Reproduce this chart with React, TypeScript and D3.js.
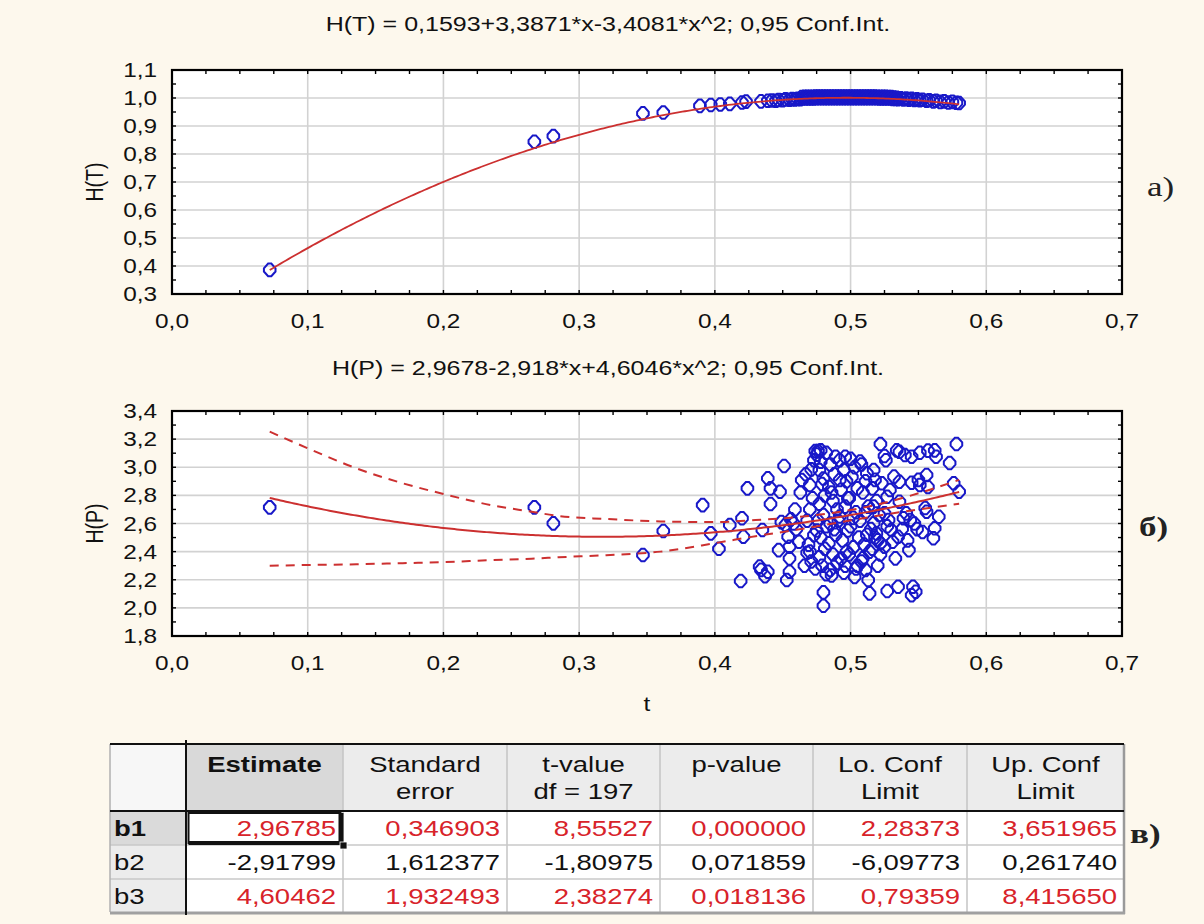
import React from "react";
import * as d3 from "d3";

// ---- data ----
const xTicks = [0, 0.1, 0.2, 0.3, 0.4, 0.5, 0.6, 0.7];
const yTicksT = [0.3, 0.4, 0.5, 0.6, 0.7, 0.8, 0.9, 1.0, 1.1];
const yTicksP = [1.8, 2.0, 2.2, 2.4, 2.6, 2.8, 3.0, 3.2, 3.4];

const titleT = "H(T) = 0,1593+3,3871*x-3,4081*x^2; 0,95 Conf.Int.";
const titleP = "H(P) = 2,9678-2,918*x+4,6046*x^2; 0,95 Conf.Int.";

// fitted quadratic coefficients (from the titles)
const coefT = [0.1593, 3.3871, -3.4081];
const coefP = [2.9678, -2.918, 4.6046];
const fitRange = [0.072, 0.58];

// 0.95 confidence band of H(P)
const bandX = [0.072, 0.1, 0.136, 0.17, 0.2, 0.235, 0.265, 0.285, 0.32, 0.36, 0.4, 0.43, 0.46, 0.49, 0.52, 0.55, 0.58];
const bandUpper = [3.253, 3.135, 2.992, 2.886, 2.81, 2.731, 2.684, 2.653, 2.632, 2.615, 2.61, 2.625, 2.645, 2.68, 2.735, 2.815, 2.91];
const bandLower = [2.3, 2.305, 2.31, 2.318, 2.325, 2.34, 2.35, 2.36, 2.375, 2.4, 2.46, 2.51, 2.555, 2.605, 2.655, 2.7, 2.74];

// H(T) observations (the band near 1,0 is packed so tight it reads as a solid bar)
const pointsT: [number, number][] = [
  [0.072, 0.386], [0.267, 0.844], [0.281, 0.864], [0.347, 0.945], [0.362, 0.948],
  [0.389, 0.972], [0.397, 0.975], [0.404, 0.977], [0.411, 0.979], [0.42, 0.984],
  [0.423, 0.987], [0.434, 0.988], [0.439, 0.99], [0.442, 0.991],
  [0.445, 0.99], [0.447, 0.993], [0.45, 0.992], [0.452, 0.995], [0.455, 0.994],
  [0.457, 0.996], [0.459, 0.995], [0.461, 0.997], [0.463, 0.996],
  [0.464, 1.003], [0.465, 0.998], [0.466, 1.004], [0.467, 0.998], [0.468, 1.004],
  [0.469, 0.998], [0.47, 1.004], [0.471, 0.998], [0.472, 1.004], [0.473, 0.998],
  [0.474, 1.005], [0.475, 0.999], [0.476, 1.005], [0.477, 0.999], [0.478, 1.005],
  [0.479, 0.999], [0.48, 1.005], [0.481, 0.999], [0.482, 1.005], [0.483, 0.999],
  [0.484, 1.005], [0.485, 0.999], [0.486, 1.005], [0.487, 0.999], [0.488, 1.005],
  [0.489, 0.999], [0.49, 1.005], [0.491, 0.999], [0.492, 1.005], [0.493, 0.999],
  [0.494, 1.005], [0.495, 0.999], [0.496, 1.005], [0.497, 0.999], [0.498, 1.005],
  [0.499, 0.999], [0.5, 1.005], [0.501, 0.999], [0.502, 1.005], [0.503, 0.999],
  [0.504, 1.005], [0.505, 0.999], [0.506, 1.005], [0.507, 0.999], [0.508, 1.005],
  [0.509, 0.999], [0.51, 1.005], [0.511, 0.999], [0.512, 1.005], [0.513, 0.999],
  [0.514, 1.005], [0.515, 0.999], [0.516, 1.005], [0.517, 0.999], [0.518, 1.005],
  [0.519, 0.999], [0.52, 1.004], [0.521, 0.998], [0.522, 1.004], [0.523, 0.998],
  [0.524, 1.004], [0.525, 0.998], [0.526, 1.004], [0.527, 0.998], [0.528, 1.003],
  [0.529, 0.998], [0.53, 1.003], [0.531, 0.997], [0.532, 1.002], [0.533, 0.997],
  [0.534, 1.001], [0.535, 0.996], [0.537, 0.999], [0.539, 0.995], [0.541, 0.998],
  [0.543, 0.994], [0.545, 0.997], [0.547, 0.993], [0.549, 0.995], [0.551, 0.992],
  [0.553, 0.994], [0.556, 0.99], [0.558, 0.992], [0.561, 0.988], [0.563, 0.99],
  [0.566, 0.986], [0.569, 0.988], [0.572, 0.984], [0.575, 0.986], [0.578, 0.983],
  [0.58, 0.982],
];

// H(P) observations
const pointsP: [number, number][] = [
  [0.072, 2.715], [0.267, 2.715], [0.281, 2.601], [0.347, 2.376], [0.362, 2.547],
  [0.391, 2.731], [0.397, 2.53], [0.403, 2.42], [0.411, 2.589], [0.419, 2.191],
  [0.42, 2.637], [0.421, 2.506], [0.424, 2.85], [0.433, 2.293], [0.434, 2.27],
  [0.437, 2.225], [0.439, 2.257], [0.435, 2.554], [0.439, 2.921], [0.441, 2.85],
  [0.441, 2.739], [0.448, 2.826], [0.451, 3.009], [0.447, 2.411], [0.453, 2.198],
  [0.455, 2.257], [0.455, 2.352], [0.455, 2.435], [0.454, 2.506], [0.452, 2.59],
  [0.456, 2.63], [0.458, 2.6], [0.449, 2.61], [0.46, 2.56], [0.464, 2.909],
  [0.468, 2.392], [0.47, 2.874], [0.471, 2.985], [0.473, 2.518],
  [0.474, 3.115], [0.476, 3.115], [0.475, 3.09], [0.478, 3.12], [0.482, 3.103], [0.478, 3.04],
  [0.48, 2.11], [0.48, 2.015], [0.489, 3.075], [0.496, 3.075], [0.492, 2.909],
  [0.522, 3.165], [0.534, 3.12], [0.536, 3.11], [0.525, 3.08], [0.526, 3.05],
  [0.54, 3.087], [0.545, 3.075], [0.551, 3.103], [0.557, 3.118], [0.562, 3.12],
  [0.563, 3.075], [0.578, 3.165], [0.573, 3.03], [0.556, 2.945], [0.55, 2.91],
  [0.551, 2.874], [0.545, 2.89], [0.536, 2.897], [0.532, 2.933], [0.576, 2.886],
  [0.58, 2.826], [0.556, 2.684], [0.565, 2.648], [0.562, 2.566], [0.561, 2.495],
  [0.543, 2.411], [0.533, 2.352], [0.535, 2.506], [0.539, 2.637], [0.513, 2.198],
  [0.514, 2.103], [0.527, 2.12], [0.535, 2.15], [0.546, 2.15], [0.548, 2.115],
  [0.545, 2.09], [0.509, 2.352], [0.505, 2.3], [0.522, 2.46], [0.525, 2.435],
  [0.519, 2.53], [0.53, 2.554], [0.528, 2.625], [0.541, 2.672], [0.525, 2.672],
  [0.517, 2.601], [0.517, 2.72], [0.536, 2.755], [0.527, 2.79], [0.529, 2.838],
  [0.523, 2.886], [0.517, 2.98], [0.518, 2.91], [0.512, 2.957], [0.507, 3.04],
  [0.468, 2.62], [0.47, 2.7], [0.472, 2.78], [0.469, 2.45], [0.471, 2.33],
  [0.474, 2.28], [0.475, 2.55], [0.467, 2.95], [0.473, 3.05],
  [0.477, 2.98], [0.479, 2.88], [0.481, 2.8], [0.477, 2.74], [0.48, 2.66],
  [0.482, 2.58], [0.478, 2.5], [0.481, 2.42], [0.477, 2.36], [0.479, 2.3],
  [0.482, 2.24], [0.476, 2.62], [0.48, 2.92],
  [0.485, 3.02], [0.488, 2.95], [0.484, 2.86], [0.487, 2.76], [0.49, 2.7],
  [0.485, 2.6], [0.489, 2.52], [0.484, 2.46], [0.487, 2.38], [0.49, 2.32],
  [0.485, 2.27], [0.488, 2.56], [0.486, 2.82],
  [0.492, 3.05], [0.495, 2.98], [0.497, 2.9], [0.493, 2.84], [0.496, 2.72],
  [0.492, 2.65], [0.498, 2.55], [0.494, 2.48], [0.497, 2.4], [0.493, 2.35],
  [0.496, 2.3], [0.491, 2.62], [0.498, 2.78],
  [0.5, 3.06], [0.503, 3.0], [0.501, 2.93], [0.505, 2.85], [0.499, 2.78],
  [0.504, 2.68], [0.5, 2.58], [0.506, 2.5], [0.502, 2.43], [0.499, 2.38],
  [0.504, 2.28], [0.502, 2.64],
  [0.508, 3.02], [0.511, 2.9], [0.509, 2.82], [0.513, 2.72], [0.507, 2.62],
  [0.512, 2.52], [0.51, 2.45], [0.514, 2.4], [0.508, 2.33], [0.511, 2.68],
  [0.516, 2.85], [0.519, 2.76], [0.521, 2.66], [0.515, 2.56], [0.52, 2.48],
  [0.516, 2.42], [0.522, 2.38], [0.518, 2.5],
  [0.459, 2.7], [0.462, 2.47], [0.466, 2.3], [0.463, 2.82], [0.47, 2.4],
  [0.486, 2.23], [0.495, 2.25], [0.503, 2.22], [0.511, 2.27], [0.52, 2.3],
  [0.527, 2.58], [0.531, 2.47], [0.538, 2.56], [0.547, 2.6], [0.553, 2.54],
  [0.557, 2.86], [0.555, 2.71], [0.544, 2.625], [0.549, 2.56], [0.542, 2.48],
];

// regression table
const tableHeaders = [["Estimate"], ["Standard", "error"], ["t-value", "df = 197"], ["p-value"], ["Lo. Conf", "Limit"], ["Up. Conf", "Limit"]];
const rowNames = ["b1", "b2", "b3"];
const tableValues = [
  ["2,96785", "0,346903", "8,55527", "0,000000", "2,28373", "3,651965"],
  ["-2,91799", "1,612377", "-1,80975", "0,071859", "-6,09773", "0,261740"],
  ["4,60462", "1,932493", "2,38274", "0,018136", "0,79359", "8,415650"],
];
const significant = [true, false, true];

// ---- styling ----
const SANS = "'Liberation Sans', Arial, sans-serif";
const SERIF = "'Liberation Serif', 'Times New Roman', serif";
const SX = 1.25; // the screenshot is stretched horizontally
const BG = "#fdf8ed";
const BLUE = "#1818c8";
const RED = "#cc3030";
const GRID = "#d2d2d2";
const X0 = 172;
const X1 = 1122;

const comma = (v: number) => v.toFixed(1).replace(".", ",");
const marker = "M-1.6,-6.3L1.6,-6.3L5.8,-1.6L5.8,1.6L1.6,6.3L-1.6,6.3L-5.8,1.6L-5.8,-1.6Z";

function Txt({ x, y, anchor = "start", size = 19, weight = "normal", fill = "#111", family = SANS, rotate = 0, dy = 0, children }: any) {
  const tr = `translate(${x},${y}) scale(${SX},1)` + (rotate ? ` rotate(${rotate})` : "");
  return (
    <text transform={tr} dy={dy} textAnchor={anchor} fontSize={size} fontWeight={weight} fill={fill} fontFamily={family}>
      {children}
    </text>
  );
}

function Panel({ y0, y1, domain, ticks, minorStep, title, titleY, yLabel, points, coef, band, showT }: any) {
  const x = d3.scaleLinear().domain([0, 0.7]).range([X0, X1]);
  const y = d3.scaleLinear().domain(domain).range([y1, y0]);
  const xMinor = d3.range(0, 0.7001, 0.025);
  const yMinor = d3.range(domain[0], domain[1] + 1e-6, minorStep);
  const poly = (t: number) => coef[0] + coef[1] * t + coef[2] * t * t;
  const fitT = d3.range(fitRange[0], fitRange[1] + 1e-9, 0.002);
  const fitPath = d3.line<number>().x((t) => x(t)).y((t) => y(poly(t)))(fitT) || "";
  const bandLine = (vals: number[]) =>
    d3.line<number>().x((_, i) => x(bandX[i])).y((d) => y(d)).curve(d3.curveMonotoneX)(vals) || "";

  return (
    <g>
      <Txt x={608} y={titleY} anchor="middle" size={20}>{title}</Txt>
      <rect x={X0} y={y0} width={X1 - X0} height={y1 - y0} fill="#fff" />
      {xTicks.slice(1, -1).map((t) => (
        <line key={"gx" + t} x1={x(t)} x2={x(t)} y1={y0} y2={y1} stroke={GRID} strokeWidth={1.6} />
      ))}
      {ticks.slice(1, -1).map((v: number) => (
        <line key={"gy" + v} x1={X0} x2={X1} y1={y(v)} y2={y(v)} stroke={GRID} strokeWidth={1.6} />
      ))}
      {xMinor.map((t) => (
        <g key={"mx" + t}>
          <line x1={x(t)} x2={x(t)} y1={y0} y2={y0 + 4} stroke="#000" strokeWidth={1.4} />
          <line x1={x(t)} x2={x(t)} y1={y1} y2={y1 - 4} stroke="#000" strokeWidth={1.4} />
        </g>
      ))}
      {yMinor.map((v: number) => (
        <g key={"my" + v}>
          <line x1={X0} x2={X0 + 4} y1={y(v)} y2={y(v)} stroke="#000" strokeWidth={1.4} />
          <line x1={X1} x2={X1 - 4} y1={y(v)} y2={y(v)} stroke="#000" strokeWidth={1.4} />
        </g>
      ))}
      {points.map((p: [number, number], i: number) => (
        <path key={"p" + i} d={marker} transform={`translate(${x(p[0])},${y(p[1])})`} fill="none" stroke={BLUE} strokeWidth={2} />
      ))}
      <path d={fitPath} fill="none" stroke={RED} strokeWidth={showT ? 1.8 : 2} />
      {band && (
        <g>
          <path d={bandLine(band[0])} fill="none" stroke={RED} strokeWidth={2} strokeDasharray="9,7" />
          <path d={bandLine(band[1])} fill="none" stroke={RED} strokeWidth={2} strokeDasharray="9,7" />
        </g>
      )}
      <rect x={X0} y={y0} width={X1 - X0} height={y1 - y0} fill="none" stroke="#000" strokeWidth={2.2} />
      {ticks.map((v: number) => (
        <Txt key={"ly" + v} x={157} y={y(v) + 7} anchor="end" size={19.5}>{comma(v)}</Txt>
      ))}
      {xTicks.map((t) => (
        <Txt key={"lx" + t} x={x(t)} y={y1 + 34} anchor="middle" size={19.5}>{comma(t)}</Txt>
      ))}
      <Txt x={94} y={(y0 + y1) / 2} anchor="middle" rotate={-90} dy="0.36em" size={19.5}>{yLabel}</Txt>
    </g>
  );
}

function Table() {
  const cols = [110, 186, 343, 507, 660, 813, 967, 1124];
  const top = 744;
  const headBottom = 811;
  const rows = [811, 845, 879, 912];
  return (
    <g>
      <rect x={cols[0]} y={top} width={cols[1] - cols[0]} height={headBottom - top} fill="#f7f7f7" />
      {tableHeaders.map((h, j) => (
        <rect key={"hb" + j} x={cols[j + 1]} y={top} width={cols[j + 2] - cols[j + 1]} height={headBottom - top} fill={j === 0 ? "#d9d9d9" : "#ececec"} />
      ))}
      {rowNames.map((r, i) => (
        <g key={"rb" + i}>
          <rect x={cols[0]} y={rows[i]} width={cols[1] - cols[0]} height={rows[i + 1] - rows[i]} fill={i === 0 ? "#dadada" : "#ececec"} />
          <rect x={cols[1]} y={rows[i]} width={cols[7] - cols[1]} height={rows[i + 1] - rows[i]} fill="#fff" />
        </g>
      ))}
      {cols.slice(2, 7).map((c) => (
        <line key={"vc" + c} x1={c} x2={c} y1={top} y2={rows[3]} stroke="#c4c4c4" strokeWidth={1.5} />
      ))}
      {rows.slice(1, 3).map((r) => (
        <line key={"hr" + r} x1={cols[0]} x2={cols[7]} y1={r} y2={r} stroke="#c8c8c8" strokeWidth={1.5} />
      ))}
      <line x1={cols[0]} x2={cols[0]} y1={top} y2={rows[3]} stroke="#b0b0b0" strokeWidth={1.5} />
      <line x1={cols[7]} x2={cols[7]} y1={top} y2={rows[3] + 2} stroke="#9a9a9a" strokeWidth={2.5} />
      <line x1={cols[0]} x2={cols[7] + 1} y1={rows[3] + 1} y2={rows[3] + 1} stroke="#a0a0a0" strokeWidth={3} />
      <line x1={cols[0]} x2={cols[7]} y1={top} y2={top} stroke="#111" strokeWidth={2} />
      <line x1={cols[0]} x2={cols[7]} y1={headBottom} y2={headBottom} stroke="#111" strokeWidth={2} />
      <line x1={cols[1]} x2={cols[1]} y1={top - 4} y2={rows[3] + 3} stroke="#111" strokeWidth={2} />
      {tableHeaders.map((h, j) => {
        const cx = (cols[j + 1] + cols[j + 2]) / 2;
        return h.map((line, k) => (
          <Txt key={"ht" + j + k} x={cx} y={772 + k * 27} anchor="middle" size={22} weight={j === 0 ? "bold" : "normal"}>{line}</Txt>
        ));
      })}
      {rowNames.map((r, i) => (
        <g key={"row" + i}>
          <Txt x={114} y={rows[i] + 25} size={22} weight={i === 0 ? "bold" : "normal"}>{r}</Txt>
          {tableValues[i].map((v, j) => (
            <Txt key={"v" + j} x={cols[j + 2] - 7} y={rows[i] + 25} anchor="end" size={22} fill={significant[i] ? "#d8232a" : "#111"}>{v}</Txt>
          ))}
        </g>
      ))}
      {/* selected cell */}
      <rect x={188.5} y={813} width={152} height={30} fill="none" stroke="#111" strokeWidth={2} />
      <rect x={338.5} y={813} width={5} height={30} fill="#111" />
      <rect x={188.5} y={841} width={154} height={4} fill="#111" />
      <rect x={340} y={842} width={7} height={7} fill="#111" stroke="#fff" strokeWidth={0.8} />
    </g>
  );
}

export default function App() {
  return (
    <svg width={1204} height={924} style={{ position: "absolute", left: 0, top: 0, display: "block" }}>
      <rect width={1204} height={924} fill={BG} />
      <Panel y0={70} y1={294} domain={[0.3, 1.1]} ticks={yTicksT} minorStep={0.05} title={titleT} titleY={31}
        yLabel="H(T)" points={pointsT} coef={coefT} showT />
      <Panel y0={411} y1={636} domain={[1.8, 3.4]} ticks={yTicksP} minorStep={0.1} title={titleP} titleY={375}
        yLabel="H(P)" points={pointsP} coef={coefP} band={[bandUpper, bandLower]} />
      <Txt x={647} y={711} anchor="middle" size={19.5}>t</Txt>
      <Table />
      <Txt x={1147} y={196} size={28} family={SERIF} fill="#222">a)</Txt>
      <Txt x={1139} y={536} size={28} family={SERIF} weight="bold" fill="#222">б)</Txt>
      <Txt x={1130} y={843} size={28} family={SERIF} weight="bold" fill="#222">в)</Txt>
    </svg>
  );
}
